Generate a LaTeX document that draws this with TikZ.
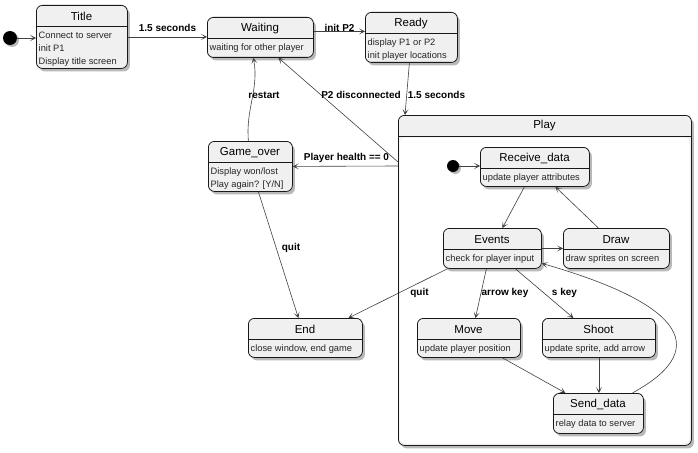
\documentclass[tikz,border=0pt]{standalone}
\usepackage{fontspec}
\setmainfont{Liberation Sans}
\usetikzlibrary{arrows.meta,shadows}

\tikzset{
  statebox/.style={draw=black!90, line width=0.8pt, rounded corners=6pt, fill=black!6, anchor=north west,
    drop shadow={shadow xshift=2.5pt, shadow yshift=-3pt, fill=black!55, opacity=0.5}},
  headline/.style={draw=black!90, line width=0.8pt},
  statetitle/.style={font=\fontsize{11.5}{13}\selectfont, inner sep=0pt},
  statebody/.style={font=\fontsize{9.3}{13.2}\selectfont, align=left, anchor=north west, inner xsep=2.5pt, inner ysep=5.5pt, text=black!85},
  trans/.style={draw=black!75, line width=0.6pt, -{Stealth[length=6pt,width=6pt,inset=3.5pt]}},
  translabel/.style={font=\fontsize{10}{12}\selectfont\bfseries, inner sep=0pt},
  startdot/.style={circle, fill=black, minimum size=14pt, inner sep=0pt,
    drop shadow={shadow xshift=2pt, shadow yshift=-2pt, fill=black!55, opacity=0.5}}
}

\begin{document}
\begin{tikzpicture}[x=1pt, y=-1pt]
\useasboundingbox (0,0) rectangle (698,452);
\def\hdr{21}

% TOP ROW
\node[startdot] (start) at (10,38) {};

\begin{scope}[shift={(36,5)}] % TITLE
\node[statebox, minimum width=91, minimum height=63] (title) at (0,0) {};
\draw[headline] (0,\hdr) -- (91,\hdr);
\node[statetitle] (title-name) at (45.5,11.5) {Title};
\node[statebody] (title-text) at (0,\hdr) {Connect to server\\init P1\\Display title screen};
\end{scope}

\begin{scope}[shift={(207,17)}] % WAITING
\node[statebox, minimum width=106, minimum height=40] (waiting) at (0,0) {};
\draw[headline] (0,\hdr) -- (106,\hdr);
\node[statetitle] (waiting-name) at (53,11.5) {Waiting};
\node[statebody] (waiting-text) at (0,\hdr) {waiting for other player};
\end{scope}

\begin{scope}[shift={(365,12)}] % READY
\node[statebox, minimum width=92, minimum height=50] (ready) at (0,0) {};
\draw[headline] (0,\hdr) -- (92,\hdr);
\node[statetitle] (ready-name) at (46,11.5) {Ready};
\node[statebody] (ready-text) at (0,\hdr) {display P1 or P2\\init player locations};
\end{scope}

% LEFT COLUMN
\begin{scope}[shift={(208,141)}] % GAME OVER
\node[statebox, minimum width=84, minimum height=50] (gameover) at (0,0) {};
\draw[headline] (0,\hdr) -- (84,\hdr);
\node[statetitle] (gameover-name) at (42,11.5) {Game\_over};
\node[statebody] (gameover-text) at (0,\hdr) {Display won/lost\\Play again? [Y/N]};
\end{scope}

\begin{scope}[shift={(248,318)}] % END
\node[statebox, minimum width=114, minimum height=39] (endst) at (0,0) {};
\draw[headline] (0,\hdr) -- (114,\hdr);
\node[statetitle] (endst-name) at (57,11.5) {End};
\node[statebody] (endst-text) at (0,\hdr) {close window, end game};
\end{scope}

% PLAY (COMPOSITE)
\begin{scope}[shift={(398,115)}]
\node[statebox, minimum width=293, minimum height=330] (play) at (0,0) {};
\fill[white, rounded corners=5pt] (1.5,22.5) rectangle (291.5,328.5);
\draw[headline] (0,\hdr) -- (293,\hdr);
\node[statetitle] (play-name) at (146.5,11) {Play};
\end{scope}

\node[startdot, minimum size=12pt] (playstart) at (453,166) {};

\begin{scope}[shift={(480,147)}] % RECEIVE DATA
\node[statebox, minimum width=109, minimum height=39] (receive) at (0,0) {};
\draw[headline] (0,\hdr) -- (109,\hdr);
\node[statetitle] (receive-name) at (54.5,11.5) {Receive\_data};
\node[statebody] (receive-text) at (0,\hdr) {update player attributes};
\end{scope}

\begin{scope}[shift={(443,228)}] % EVENTS
\node[statebox, minimum width=98, minimum height=40] (events) at (0,0) {};
\draw[headline] (0,\hdr) -- (98,\hdr);
\node[statetitle] (events-name) at (49,11.5) {Events};
\node[statebody] (events-text) at (0,\hdr) {check for player input};
\end{scope}

\begin{scope}[shift={(563,228)}] % DRAW
\node[statebox, minimum width=106, minimum height=40] (drawsprites) at (0,0) {};
\draw[headline] (0,\hdr) -- (106,\hdr);
\node[statetitle] (drawsprites-name) at (53,11.5) {Draw};
\node[statebody] (drawsprites-text) at (0,\hdr) {draw sprites on screen};
\end{scope}

\begin{scope}[shift={(417,318)}] % MOVE
\node[statebox, minimum width=103, minimum height=39] (move) at (0,0) {};
\draw[headline] (0,\hdr) -- (103,\hdr);
\node[statetitle] (move-name) at (51.5,11.5) {Move};
\node[statebody] (move-text) at (0,\hdr) {update player position};
\end{scope}

\begin{scope}[shift={(542,318)}] % SHOOT
\node[statebox, minimum width=113, minimum height=39] (shoot) at (0,0) {};
\draw[headline] (0,\hdr) -- (113,\hdr);
\node[statetitle] (shoot-name) at (56.5,11.5) {Shoot};
\node[statebody] (shoot-text) at (0,\hdr) {update sprite, add arrow};
\end{scope}

\begin{scope}[shift={(553,393)}] % SEND DATA
\node[statebox, minimum width=90, minimum height=40] (senddata) at (0,0) {};
\draw[headline] (0,\hdr) -- (90,\hdr);
\node[statetitle] (senddata-name) at (45,11.5) {Send\_data};
\node[statebody] (senddata-text) at (0,\hdr) {relay data to server};
\end{scope}

% TRANSITIONS
\draw[trans] (start) -- (start -| title.west);
\draw[trans] (title.east) -- (title.east -| waiting.west);
\draw[trans] ([yshift=6pt]waiting.east) -- ([yshift=6pt]ready.west);
\draw[trans] ([xshift=-2pt]ready.south) -- ([xshift=7pt]play.north west);
\draw[trans] ([yshift=-47pt]play.north west) -- ([xshift=18pt]waiting.south);
\draw[trans] ([yshift=-51pt]play.north west) -- (gameover.east);
\draw[trans] ([xshift=-2pt]gameover.north) to[out=95, in=-80] ([xshift=-7pt]waiting.south);
\draw[trans] ([xshift=8pt]gameover.south) -- ([xshift=-7pt]endst.north);
\draw[trans] ([xshift=-45pt]events.south) -- ([xshift=43pt]endst.north);

\draw[trans] (playstart) -- (playstart -| receive.west);
\draw[trans] ([xshift=-10.5pt]receive.south) -- ([xshift=10pt]events.north);
\draw[trans] (events.east) -- (drawsprites.west);
\draw[trans] ([xshift=-18pt]drawsprites.north) -- ([xshift=20.5pt]receive.south);
\draw[trans] ([xshift=-6pt]events.south) -- ([xshift=6.5pt]move.north);
\draw[trans] ([xshift=23pt]events.south) -- ([xshift=-25.5pt]shoot.north);
\draw[trans] ([xshift=33.5pt]move.south) -- ([xshift=-33pt]senddata.north);
\draw[trans] (shoot.south) -- (shoot.south |- senddata.north);
\draw[trans] ([xshift=34pt]senddata.north) .. controls (720,345) and (670,300) .. ([yshift=-15pt]events.east);

% LABELS
\node[translabel] (lbl-titlewait) at (167.5,28) {1.5 seconds};
\node[translabel] (lbl-waitready) at (339.5,28) {init P2};
\node[translabel] (lbl-readyplay) at (436.5,95) {1.5 seconds};
\node[translabel] (lbl-disconnect) at (361,95) {P2 disconnected};
\node[translabel] (lbl-restart) at (264,95) {restart};
\node[translabel] (lbl-health) at (346.5,158) {Player health == 0};
\node[translabel] (lbl-quitover) at (291,248) {quit};
\node[translabel] (lbl-quitevents) at (419.5,293) {quit};
\node[translabel] (lbl-arrowkey) at (505,293) {arrow key};
\node[translabel] (lbl-skey) at (564.5,293) {s key};
\end{tikzpicture}
\end{document}
